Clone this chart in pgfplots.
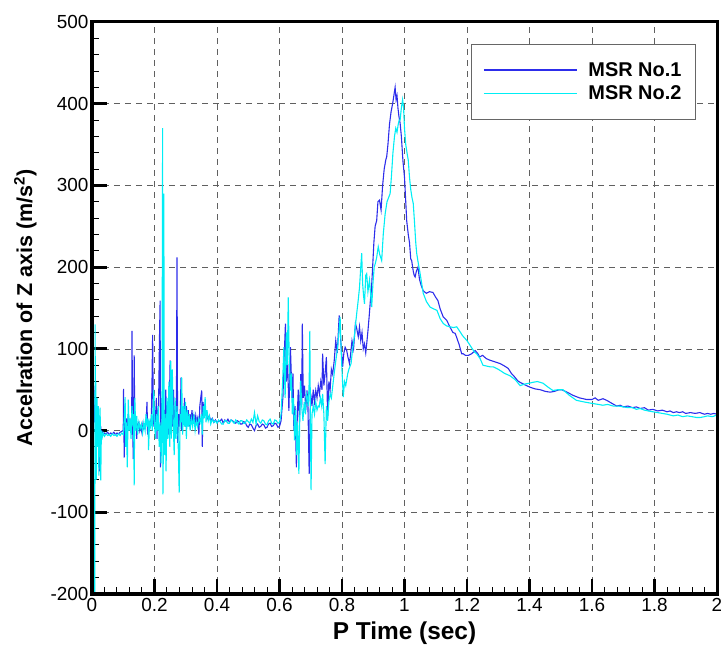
\documentclass[border=0pt]{standalone}
\usepackage{pgfplots}
\pgfplotsset{compat=1.18}
\usepackage{fontspec}
\setmainfont{Liberation Sans}
\definecolor{msrone}{RGB}{45,45,235}
\definecolor{msrtwo}{RGB}{0,238,245}
\begin{document}
\begin{tikzpicture}
\begin{axis}[
  name=ax,
  scale only axis,
  width=625bp, height=572bp,
  xmin=0, xmax=2, ymin=-200, ymax=500,
  xtick={0,0.2,...,2.01}, ytick={-200,-100,...,500},
  minor x tick num=4, minor y tick num=4,
  xtick pos=left, ytick pos=left,
  tick align=inside,
  major tick length=15bp, minor tick length=7bp,
  every major tick/.style={black, line width=2.8bp},
  every minor tick/.style={black, line width=1bp},
  axis line style={black, line width=3bp},
  grid=major,
  major grid style={gray!75!black, line width=0.7bp, dash pattern=on 6bp off 5bp},
  /pgf/number format/assume math mode=true,
  tick label style={font=\fontsize{19}{23}\selectfont},
  xticklabel style={/pgf/number format/fixed, yshift=-1bp},
  xlabel={P Time (sec)},
  ylabel={Accelration of Z axis (m/s\textsuperscript{2})},
  xlabel style={at={(axis description cs:0.5,-0.0804)}, anchor=base, font=\bfseries\fontsize{24.5}{28}\selectfont},
  ylabel style={at={(axis description cs:-0.096,0.5)}, anchor=base, font=\bfseries\fontsize{21.6}{26}\selectfont},
  legend style={at={(axis description cs:0.606,0.9615)}, anchor=north west,
    draw=gray!80!black, line width=0.8bp, fill=white,
    font=\bfseries\fontsize{20}{24}\selectfont,
    inner xsep=12bp, inner ysep=16bp, row sep=4bp, column sep=9bp},
  legend cell align=left,
  legend image code/.code={\draw[#1, line width=1.3bp] (0bp,0bp) -- (93bp,0bp);},
  clip=true,
]
\addplot[msrone, line width=1.1bp] coordinates {
(0.000,350) (0.001,120) (0.002,50) (0.004,40) (0.006,55) (0.008,10) (0.010,30) (0.012,-20) (0.014,20) (0.016,5) (0.018,-10) (0.020,25) (0.022,-5) (0.024,-50) (0.026,-40) (0.028,5) (0.030,-8) (0.033,-2) (0.036,-5) (0.040,-3) (0.045,-4) (0.050,-2) (0.055,-5) (0.060,-3) (0.065,-4) (0.070,-2) (0.075,-5) (0.080,-3) (0.085,-4) (0.090,-2) (0.095,-1) (0.100,0)
(0.101,51) (0.103,-33) (0.105,10) (0.108,-5) (0.110,15) (0.113,0) (0.116,20) (0.120,5) (0.124,12) (0.127,-5) (0.128,122) (0.130,10) (0.132,-35) (0.134,30) (0.135,92) (0.137,5) (0.140,15) (0.143,-10) (0.146,8) (0.150,10) (0.153,0) (0.156,5) (0.160,-3) (0.163,8) (0.166,2) (0.170,5) (0.173,10) (0.176,35) (0.178,-5) (0.180,12) (0.183,2) (0.186,8) (0.190,15) (0.192,60) (0.194,117) (0.196,30) (0.198,5)
(0.200,25) (0.203,10) (0.206,40) (0.208,-10) (0.210,20) (0.213,30) (0.216,114) (0.218,159) (0.219,-45) (0.221,10) (0.224,40) (0.227,5) (0.230,25) (0.233,0) (0.236,50) (0.239,10) (0.242,30) (0.245,-5) (0.248,40) (0.250,86) (0.252,0) (0.255,35) (0.258,5) (0.261,50) (0.264,-10) (0.267,30) (0.270,10) (0.272,212) (0.274,-15) (0.277,20) (0.280,5) (0.283,30) (0.285,65) (0.287,0) (0.290,25) (0.293,10) (0.296,40) (0.299,5)
(0.302,30) (0.305,10) (0.308,25) (0.311,5) (0.314,20) (0.317,10) (0.320,25) (0.323,8) (0.326,20) (0.329,5) (0.332,18) (0.335,10) (0.338,15) (0.342,-5) (0.345,30) (0.348,40) (0.351,49) (0.353,-20) (0.355,35) (0.358,25) (0.361,30) (0.364,20) (0.367,22) (0.370,15) (0.375,18) (0.380,12) (0.385,15) (0.390,10) (0.395,13) (0.400,10)
(0.410,12) (0.415,14) (0.420,9) (0.425,13) (0.430,11) (0.435,14) (0.440,10) (0.445,13) (0.450,12) (0.455,10) (0.460,9) (0.465,12) (0.470,11) (0.475,8) (0.480,8) (0.485,11) (0.490,10) (0.495,6) (0.500,4) (0.505,8) (0.510,7) (0.515,3) (0.520,0) (0.525,6) (0.530,8) (0.535,4) (0.540,5) (0.545,8) (0.550,7) (0.555,3) (0.560,4) (0.565,8) (0.570,9) (0.575,5) (0.580,6) (0.585,9) (0.590,8) (0.595,4) (0.600,5)
(0.605,12) (0.611,41) (0.615,90) (0.619,131) (0.622,60) (0.626,85) (0.630,24) (0.635,102) (0.640,40) (0.643,70) (0.646,0) (0.650,30) (0.654,-45) (0.657,20) (0.660,50) (0.664,10) (0.668,69) (0.671,30) (0.673,131) (0.676,40) (0.680,55) (0.684,25) (0.688,49) (0.691,30) (0.695,-53) (0.698,20) (0.700,45) (0.704,30) (0.708,50) (0.712,35) (0.716,49) (0.720,40) (0.724,55) (0.728,45) (0.732,60) (0.736,50) (0.738,94) (0.742,55) (0.746,70) (0.750,90) (0.754,16) (0.758,60) (0.762,50) (0.766,75) (0.770,69) (0.775,85) (0.780,110) (0.785,95) (0.791,141) (0.796,110)
(0.802,78) (0.806,95) (0.810,102) (0.815,98) (0.819,90) (0.824,82) (0.828,95) (0.832,110) (0.837,100) (0.843,131) (0.847,125) (0.852,115) (0.856,127) (0.860,110) (0.864,120) (0.868,100) (0.872,106) (0.876,95) (0.879,106) (0.883,122) (0.887,140) (0.891,160) (0.894,171) (0.898,200) (0.902,230) (0.906,250) (0.911,257) (0.915,280) (0.920,282) (0.925,270) (0.930,300) (0.935,320) (0.940,331) (0.943,335) (0.947,350) (0.952,375) (0.957,390) (0.962,400) (0.966,410) (0.970,420) (0.973,405) (0.976,410) (0.979,395) (0.982,385) (0.986,376) (0.990,360) (0.995,330)
(1.000,310) (1.004,280) (1.007,257) (1.012,240) (1.016,230) (1.020,210) (1.023,208) (1.028,195) (1.031,190) (1.034,188) (1.038,195) (1.043,200) (1.048,185) (1.053,178) (1.060,171) (1.070,168) (1.080,170) (1.091,169) (1.100,163) (1.107,159) (1.114,149) (1.124,139) (1.135,135) (1.145,127) (1.155,120) (1.162,119) (1.167,114) (1.175,105) (1.183,94) (1.188,94) (1.195,92) (1.204,92) (1.215,94) (1.226,98) (1.235,94) (1.240,90) (1.250,92) (1.262,88) (1.274,86) (1.290,84) (1.306,82) (1.320,79) (1.332,76) (1.342,70) (1.354,65) (1.362,61) (1.370,59) (1.385,56) (1.402,53) (1.418,51) (1.434,50) (1.450,48) (1.466,47) (1.480,48) (1.495,50) (1.503,50) (1.520,47) (1.540,43) (1.560,40) (1.583,38)
(1.600,38) (1.610,40) (1.620,37) (1.635,39) (1.647,37) (1.665,33) (1.679,30) (1.690,31) (1.700,29) (1.715,30) (1.730,28) (1.742,29) (1.754,27) (1.768,28) (1.780,25) (1.795,26) (1.810,24) (1.825,25) (1.840,23) (1.850,24) (1.860,22) (1.870,23) (1.880,22) (1.890,23) (1.900,21) (1.915,22) (1.930,21) (1.945,22) (1.960,20) (1.970,21) (1.980,20) (1.990,21) (2.000,20)
};
\addlegendentry{MSR No.1}
\addplot[msrtwo, line width=1.1bp] coordinates {
(0.000,-220) (0.002,-150) (0.003,-220) (0.004,-120) (0.005,-220) (0.006,-90) (0.007,-220) (0.008,-60) (0.009,-220) (0.010,130) (0.011,-30) (0.012,60) (0.014,-60) (0.016,40) (0.018,-20) (0.020,30) (0.022,-55) (0.024,10) (0.026,28) (0.028,-61) (0.030,0) (0.033,-8) (0.036,-3) (0.040,-7) (0.045,-4) (0.050,-6) (0.055,-5) (0.060,-7) (0.065,-4) (0.070,-6) (0.075,-5) (0.080,-7) (0.085,-4) (0.090,-6) (0.095,-3) (0.100,-5)
(0.104,20) (0.106,41) (0.108,-20) (0.110,10) (0.113,-45) (0.116,38) (0.119,0) (0.122,15) (0.125,-10) (0.128,30) (0.131,5) (0.133,20) (0.135,-67) (0.137,40) (0.140,0) (0.143,18) (0.146,-5) (0.150,10) (0.154,2) (0.158,8) (0.162,-3) (0.166,10) (0.170,0) (0.173,20) (0.176,5) (0.179,15) (0.181,-24) (0.184,10) (0.187,5) (0.190,20) (0.193,0) (0.196,30) (0.198,50)
(0.200,10) (0.203,-10) (0.206,20) (0.209,0) (0.212,30) (0.215,-20) (0.218,10) (0.221,-40) (0.224,20) (0.226,370) (0.227,-78) (0.229,10) (0.230,290) (0.231,-30) (0.234,20) (0.237,-50) (0.240,40) (0.243,-10) (0.246,60) (0.249,-20) (0.252,85) (0.254,-10) (0.257,75) (0.260,10) (0.263,-30) (0.266,40) (0.269,-10) (0.272,30) (0.275,0) (0.279,-76) (0.282,20) (0.285,10) (0.287,65) (0.290,-5) (0.293,30) (0.296,5) (0.299,35)
(0.302,-10) (0.305,25) (0.308,5) (0.311,20) (0.314,0) (0.318,15) (0.322,5) (0.326,18) (0.330,0) (0.334,12) (0.338,5) (0.342,15) (0.346,10) (0.350,20) (0.353,-5) (0.356,30) (0.359,15) (0.362,41) (0.365,10) (0.368,25) (0.372,12) (0.376,18) (0.380,8) (0.385,14) (0.390,10) (0.395,12) (0.400,9)
(0.405,13) (0.410,11) (0.415,8) (0.420,8) (0.425,12) (0.430,12) (0.435,9) (0.440,9) (0.445,13) (0.450,11) (0.455,9) (0.460,13) (0.465,10) (0.470,8) (0.475,12) (0.480,12) (0.485,9) (0.490,9) (0.495,13) (0.500,11) (0.505,9) (0.510,14) (0.515,10) (0.520,22) (0.525,8) (0.530,18) (0.535,11) (0.540,9) (0.545,13) (0.550,12) (0.555,8) (0.560,7) (0.565,12) (0.570,14) (0.575,9) (0.580,8) (0.585,13) (0.590,12) (0.595,9) (0.600,10)
(0.605,20) (0.610,60) (0.614,102) (0.618,40) (0.622,120) (0.625,80) (0.628,163) (0.631,90) (0.635,49) (0.638,70) (0.641,20) (0.645,40) (0.648,-12) (0.652,25) (0.655,-30) (0.658,10) (0.662,-53) (0.665,20) (0.668,61) (0.671,30) (0.675,12) (0.679,35) (0.683,20) (0.686,45) (0.689,41) (0.692,30) (0.695,60) (0.697,122) (0.699,10) (0.701,-73) (0.704,20) (0.708,30) (0.712,20) (0.716,35) (0.720,25) (0.724,30) (0.727,29) (0.731,40) (0.735,30) (0.738,45) (0.742,20) (0.746,-41) (0.750,30) (0.754,12) (0.758,35) (0.762,45) (0.766,40) (0.770,53) (0.775,70) (0.780,85) (0.786,102) (0.790,120) (0.794,139) (0.798,90)
(0.804,41) (0.808,60) (0.812,55) (0.818,69) (0.822,75) (0.829,82) (0.834,100) (0.838,110) (0.842,125) (0.847,143) (0.852,160) (0.856,175) (0.860,200) (0.863,217) (0.866,180) (0.869,165) (0.872,155) (0.876,190) (0.879,192) (0.883,170) (0.888,184) (0.892,165) (0.895,151) (0.899,180) (0.903,200) (0.907,205) (0.911,212) (0.916,225) (0.921,215) (0.927,208) (0.932,240) (0.938,265) (0.944,280) (0.949,285) (0.954,290) (0.958,310) (0.963,340) (0.968,360) (0.972,370) (0.976,365) (0.980,375) (0.983,380) (0.986,380) (0.990,395) (0.994,405) (0.997,395)
(1.000,370) (1.004,350) (1.008,340) (1.012,331) (1.016,310) (1.020,295) (1.024,285) (1.028,278) (1.032,255) (1.036,230) (1.039,217) (1.044,205) (1.050,192) (1.055,180) (1.060,168) (1.070,158) (1.082,151) (1.093,149) (1.104,147) (1.114,137) (1.124,131) (1.135,128) (1.146,127) (1.157,126) (1.167,127) (1.176,122) (1.186,116) (1.200,110) (1.212,103) (1.224,96) (1.231,94) (1.242,88) (1.251,80) (1.262,79) (1.274,78) (1.284,78) (1.300,75) (1.320,70) (1.338,67) (1.355,62) (1.370,55) (1.385,57) (1.400,58) (1.410,59) (1.425,60) (1.443,58) (1.460,53) (1.475,49) (1.490,50) (1.507,50) (1.528,43) (1.550,37) (1.575,35)
(1.604,33) (1.620,32) (1.635,31) (1.650,32) (1.668,30) (1.685,30) (1.700,29) (1.715,28) (1.730,28) (1.742,26) (1.754,27) (1.768,25) (1.780,24) (1.795,23) (1.810,22) (1.825,21) (1.840,20) (1.850,19) (1.860,18) (1.875,19) (1.890,17) (1.905,18) (1.920,17) (1.935,16) (1.946,16) (1.960,17) (1.970,18) (1.985,17) (2.000,19)
};
\addlegendentry{MSR No.2}
\end{axis}
\draw[black, line width=3bp] (ax.south west) rectangle (ax.north east);
\pgfresetboundingbox
\path[use as bounding box] (ax.south west) ++(-92bp,-52bp) rectangle ++(721bp,646bp);
\end{tikzpicture}
\end{document}
